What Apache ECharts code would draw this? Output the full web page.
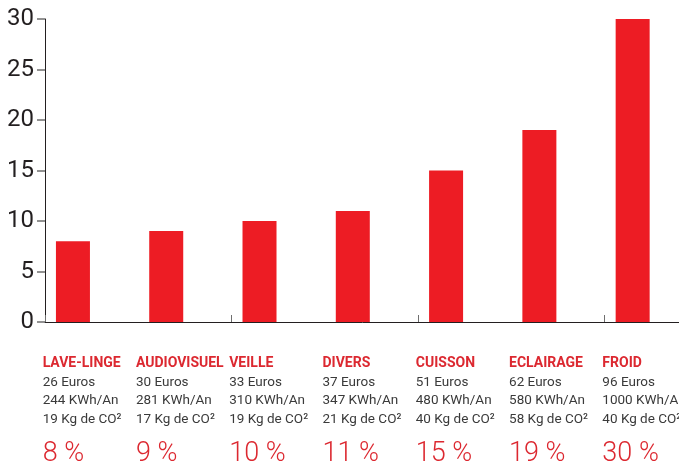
<!DOCTYPE html>
<html>
<head>
<meta charset="utf-8">
<script src="https://cdn.jsdelivr.net/npm/echarts@6/dist/echarts.min.js"></script>
<style>
  html, body { margin: 0; padding: 0; background: #fff; }
  #chart { width: 679px; height: 466px; }
</style>
</head>
<body>
<div id="chart"></div>
<script>
  // consommation par poste
  const categories = ['LAVE-LINGE', 'AUDIOVISUEL', 'VEILLE', 'DIVERS', 'CUISSON', 'ECLAIRAGE', 'FROID'];
  const percents = [8, 9, 10, 11, 15, 19, 30];
  const euros = ['26 Euros', '30 Euros', '33 Euros', '37 Euros', '51 Euros', '62 Euros', '96 Euros'];
  const kwh = ['244 KWh/An', '281 KWh/An', '310 KWh/An', '347 KWh/An', '480 KWh/An', '580 KWh/An', '1000 KWh/An'];
  const co2 = ['19 Kg de CO²', '17 Kg de CO²', '19 Kg de CO²', '21 Kg de CO²', '40 Kg de CO²', '58 Kg de CO²', '40 Kg de CO²'];
  const yTicks = [0, 5, 10, 15, 20, 25, 30];

  const RED = '#ed1c24';
  const TXT_RED = '#dc2830';
  const TICK = '#6f6f6f';
  const FONT = 'Roboto, "Noto Sans", sans-serif';
  const yMin = yTicks[0];
  const yMax = yTicks[yTicks.length - 1];

  // grille : 45 a gauche, debordement de 19px a droite (derniere categorie coupee)
  const GRID = { left: 45, right: -19, top: 19, bottom: 144 };
  const gridH = 466 - GRID.top - GRID.bottom;

  const chart = echarts.init(document.getElementById('chart'));
  chart.setOption({
    animation: false,
    grid: Object.assign({ outerBoundsMode: 'none', containLabel: false }, GRID),
    xAxis: [
      {
        type: 'category',
        data: categories,
        axisLine: { lineStyle: { color: '#231f20', width: 1 } },
        axisTick: { show: false },
        axisLabel: {
          interval: 0,
          margin: 32,
          align: 'center',
          formatter: function (v, i) {
            return '{n|' + v + '}\n{d|' + euros[i] + '}\n{d|' + kwh[i] + '}\n{d|' + co2[i] + '}\n{p|' + percents[i] + ' %}';
          },
          rich: {
            n: { width: 98, align: 'left', fontFamily: FONT, fontSize: 14, fontWeight: 'bold', color: TXT_RED, lineHeight: 19 },
            d: { width: 98, align: 'left', fontFamily: FONT, fontSize: 13.5, color: '#3a3a3a', lineHeight: 18.5 },
            p: { width: 98, align: 'left', fontFamily: FONT, fontSize: 27, fontWeight: 300, color: TXT_RED, lineHeight: 52 },
          },
        },
      },
      {
        // graduations vers le haut, posees sur l'axe du bas
        type: 'category',
        data: categories,
        position: 'top',
        offset: -gridH,
        axisLine: { show: false },
        axisTick: { show: true, length: 7, lineStyle: { color: TICK, width: 1 } },
        axisLabel: { show: false },
      },
    ],
    yAxis: {
      type: 'value',
      min: yMin,
      max: yMax,
      interval: 5,
      splitLine: { show: false },
      axisLine: { show: true, lineStyle: { color: '#231f20', width: 1 } },
      axisTick: { show: true, length: 8, lineStyle: { color: TICK, width: 1.5 } },
      axisLabel: { fontFamily: FONT, fontSize: 24, color: '#231f20', margin: 11 },
    },
    series: [
      {
        type: 'bar',
        data: percents,
        barWidth: 34,
        barGap: '10%',
        itemStyle: { color: RED },
      },
      {
        // espace vide a droite des barres
        type: 'bar',
        data: [],
        barWidth: 34,
        silent: true,
      },
    ],
  });
</script>
</body>
</html>
